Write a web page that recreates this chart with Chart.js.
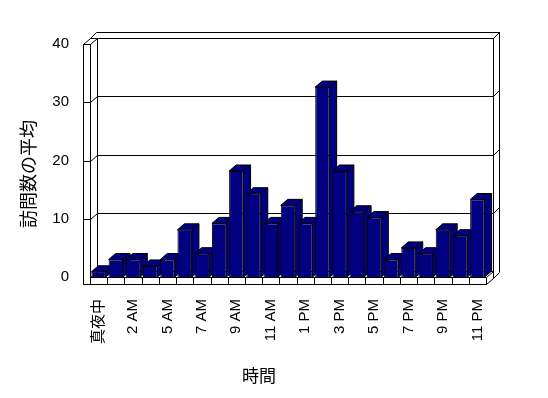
<!DOCTYPE html>
<html>
<head>
<meta charset="utf-8">
<script src="https://cdn.jsdelivr.net/npm/chart.js@4/dist/chart.umd.min.js"></script>
<style>
html,body{margin:0;padding:0;background:#fff;}
#wrap{width:548px;height:398px;position:relative;}
</style>
</head>
<body>
<div id="wrap"><canvas id="c" width="548" height="398"></canvas></div>
<script>
const hours = ['真夜中','1 AM','2 AM','3 AM','5 AM','6 AM','7 AM','8 AM','9 AM','10 AM','11 AM','正午',
  '1 PM','2 PM','3 PM','4 PM','5 PM','6 PM','7 PM','8 PM','9 PM','10 PM','11 PM'];
const avgVisits = [0.9, 3, 3, 1.9, 3, 8.1, 4, 9.2, 18.2, 14.3, 9.2, 12.3,
  9.2, 32.6, 18.2, 11.2, 10.2, 3, 5, 4, 8.1, 7.1, 13.3];
const yTicks = [0, 10, 20, 30, 40];
const yTitle = '訪問数の平均';
const xTitle = '時間';

const NAVY = '#000080';
const FONT = '"Liberation Sans", "Noto Sans CJK JP", sans-serif';
const CJK = '"Noto Sans CJK JP", sans-serif';

const threeD = {
  id: 'threeD',
  beforeDatasetsDraw(chart) {
    const ctx = chart.ctx;
    const {left: L, right: R, top: T, bottom: B} = chart.chartArea;
    const ys = chart.scales.y;
    const dx = 7, dy = -6, t = 7, bt = 6;
    const h = v => Math.round(v) + 0.5;
    ctx.save();
    ctx.strokeStyle = '#000';
    ctx.lineWidth = 1;
    const line = (x1, y1, x2, y2) => { ctx.beginPath(); ctx.moveTo(x1, y1); ctx.lineTo(x2, y2); ctx.stroke(); };

    // back wall face
    ctx.strokeRect(h(L + dx), h(T + dy), Math.round(R - L), Math.round(B - T));
    // back wall top thickness
    line(h(L - t + dx), h(T + dy), h(L + dx), h(T + dy));
    line(h(L - t + dx), h(T + dy), h(L - t + dx + bt), h(T + dy - bt));
    line(h(L - t + dx + bt), h(T + dy - bt), h(R + dx + bt), h(T + dy - bt));
    line(h(R + dx + bt), h(T + dy - bt), h(R + dx), h(T + dy));
    // back wall right outer edge
    line(h(R + dx + bt), h(T + dy - bt), h(R + dx + bt), h(B + dy + t - bt));
    line(h(R + dx), h(B + dy), h(R + dx), h(B + dy + t));
    line(h(R + dx), h(B + dy + t), h(R + dx + bt), h(B + dy + t - bt));

    // gridlines
    yTicks.forEach(v => {
      const yv = ys.getPixelForValue(v);
      if (v > 0 && v < 40) {
        line(h(L + dx), h(yv + dy), h(R + dx), h(yv + dy));
        line(h(L - t), h(yv), h(L), h(yv));
      }
      if (v > 0) {
        line(h(L), h(yv), h(L + dx), h(yv + dy));
        line(h(R + dx), h(yv + dy), h(R + dx + bt), h(yv + dy - bt));
      }
    });

    // left wall front edge
    ctx.strokeRect(h(L - t), h(T), t, Math.round(B + t - T));
    line(h(L - t), h(T), h(L - t + dx), h(T + dy));
    // floor
    line(h(L), h(B), h(L + dx), h(B + dy));
    line(h(L), h(B), h(R), h(B));
    line(h(L - t), h(B + t), h(R), h(B + t));
    line(h(R), h(B), h(R), h(B + t));
    line(h(R), h(B), h(R + dx), h(B + dy));
    line(h(R), h(B + t), h(R + dx), h(B + dy + t));
    const n = hours.length, w = (R - L) / n;
    for (let i = 1; i < n; i++) line(h(L + i * w), h(B), h(L + i * w), h(B + t));

    // bar tops and sides
    const meta = chart.getDatasetMeta(0);
    ctx.fillStyle = NAVY;
    meta.data.forEach(bar => {
      const l = bar.x - bar.width / 2, r = bar.x + bar.width / 2;
      const tp = bar.y, bm = bar.base;
      ctx.beginPath();
      ctx.moveTo(l, tp); ctx.lineTo(l + dx, tp + dy); ctx.lineTo(r + dx, tp + dy); ctx.lineTo(r, tp);
      ctx.closePath(); ctx.fill(); ctx.stroke();
      ctx.beginPath();
      ctx.moveTo(r, tp); ctx.lineTo(r + dx, tp + dy); ctx.lineTo(r + dx, bm + dy); ctx.lineTo(r, bm);
      ctx.closePath(); ctx.fill(); ctx.stroke();
    });
    ctx.restore();
  },
  afterDraw(chart) {
    const ctx = chart.ctx;
    ctx.save();
    ctx.fillStyle = '#000';
    ctx.font = '17px ' + CJK;
    ctx.textAlign = 'center';
    ctx.textBaseline = 'middle';
    ctx.fillText(xTitle, 259, 376);
    ctx.translate(28, 174);
    ctx.rotate(-Math.PI / 2);
    ctx.font = '18px ' + CJK;
    ctx.fillText(yTitle, 0, 0);
    ctx.restore();
  }
};

new Chart(document.getElementById('c'), {
  type: 'bar',
  data: {
    labels: hours,
    datasets: [{
      data: avgVisits,
      backgroundColor: NAVY,
      borderColor: '#000',
      borderWidth: 1,
      categoryPercentage: 1,
      barPercentage: 0.84
    }]
  },
  options: {
    responsive: false,
    animation: false,
    events: [],
    layout: {padding: {top: 44, right: 62, left: 0, bottom: 0}},
    plugins: {legend: {display: false}, tooltip: {enabled: false}},
    scales: {
      x: {
        grid: {display: false, drawTicks: false},
        border: {display: false},
        ticks: {
          autoSkip: false,
          minRotation: 90,
          maxRotation: 90,
          padding: 22,
          color: '#000',
          font: {family: FONT, size: 15},
          callback: (v, i) => (i % 2 === 0 ? hours[i] : '')
        },
        afterFit: s => { s.height = 398 - 277; }
      },
      y: {
        min: 0,
        max: 40,
        grid: {display: false, drawTicks: false},
        border: {display: false},
        ticks: {
          stepSize: 10,
          padding: 21,
          color: '#000',
          font: {family: FONT, size: 15}
        },
        afterFit: s => { s.width = 90; }
      }
    }
  },
  plugins: [threeD]
});
</script>
</body>
</html>
